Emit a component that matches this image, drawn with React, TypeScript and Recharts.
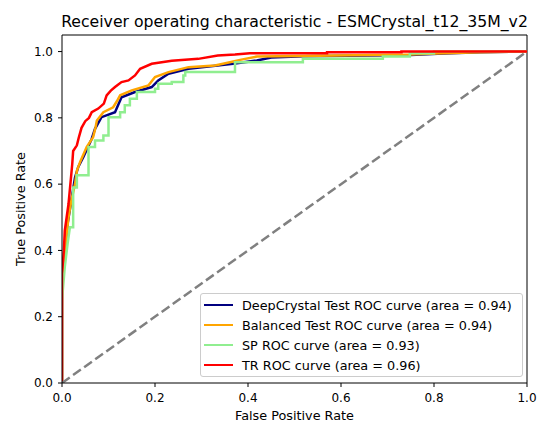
import { LineChart, Line, XAxis, YAxis, ReferenceLine } from "recharts";

// ROC points: [false positive rate, true positive rate]
const deepCrystalRoc = [
  [0, 0], [0, 0.3], [0.006, 0.4], [0.012, 0.48], [0.02, 0.55], [0.028, 0.62],
  [0.035, 0.652], [0.046, 0.682], [0.064, 0.737], [0.071, 0.767], [0.085, 0.802],
  [0.114, 0.817], [0.128, 0.862], [0.157, 0.878], [0.193, 0.893], [0.207, 0.913],
  [0.229, 0.933], [0.272, 0.948], [0.368, 0.963], [0.419, 0.973], [0.45, 0.982],
  [0.52, 0.986], [0.75, 0.99], [0.82, 0.994], [0.9, 0.998], [1, 1],
];

const balancedRoc = [
  [0, 0], [0, 0.3], [0.005, 0.38], [0.01, 0.45], [0.014, 0.5], [0.02, 0.55],
  [0.028, 0.6], [0.032, 0.64], [0.039, 0.667], [0.053, 0.712], [0.067, 0.742],
  [0.072, 0.77], [0.075, 0.792], [0.089, 0.817], [0.11, 0.832], [0.118, 0.85],
  [0.125, 0.868], [0.15, 0.883], [0.186, 0.898], [0.2, 0.923], [0.229, 0.938],
  [0.272, 0.953], [0.329, 0.958], [0.361, 0.968], [0.383, 0.975], [0.419, 0.985],
  [0.512, 0.987], [0.748, 0.991], [0.82, 0.995], [0.9, 0.998], [1, 1],
];

const spRoc = [
  [0, 0], [0, 0.25], [0.006, 0.35], [0.012, 0.42], [0.017, 0.47], [0.024, 0.47],
  [0.024, 0.59], [0.032, 0.59], [0.032, 0.627], [0.057, 0.627], [0.057, 0.712],
  [0.071, 0.712], [0.071, 0.732], [0.089, 0.732], [0.089, 0.747], [0.1, 0.747],
  [0.1, 0.802], [0.125, 0.802], [0.125, 0.817], [0.135, 0.817], [0.135, 0.838],
  [0.146, 0.838], [0.146, 0.858], [0.161, 0.858], [0.161, 0.878], [0.2, 0.878],
  [0.2, 0.888], [0.207, 0.888], [0.207, 0.903], [0.236, 0.903], [0.236, 0.908],
  [0.261, 0.908], [0.261, 0.928], [0.265, 0.928], [0.265, 0.938], [0.372, 0.938],
  [0.372, 0.968], [0.518, 0.968], [0.518, 0.978], [0.69, 0.978], [0.69, 0.985],
  [0.748, 0.985], [0.748, 0.995], [0.8, 0.995], [0.8, 1], [1, 1],
];

const trRoc = [
  [0, 0], [0, 0.33], [0.004, 0.4], [0.006, 0.46], [0.01, 0.5], [0.014, 0.54],
  [0.018, 0.6], [0.022, 0.66], [0.024, 0.7], [0.032, 0.717], [0.036, 0.74],
  [0.042, 0.77], [0.05, 0.79], [0.058, 0.8], [0.064, 0.817], [0.078, 0.828],
  [0.09, 0.843], [0.096, 0.868], [0.105, 0.882], [0.114, 0.893], [0.128, 0.908],
  [0.143, 0.913], [0.157, 0.928], [0.168, 0.948], [0.193, 0.963], [0.236, 0.972],
  [0.293, 0.978], [0.335, 0.988], [0.372, 0.991], [0.404, 0.995], [0.57, 0.995],
  [0.57, 0.998], [0.73, 0.998], [0.73, 1], [1, 1],
];

const chanceLine = [[0, 0], [1, 1]];

const seriesNames = [
  "DeepCrystal Test ROC curve (area = 0.94)",
  "Balanced Test ROC curve (area = 0.94)",
  "SP ROC curve (area = 0.93)",
  "TR ROC curve (area = 0.96)",
];
const seriesColors = ["#000080", "#FFA500", "#90EE90", "#FF0000"];
const seriesData = [deepCrystalRoc, balancedRoc, spRoc, trRoc];

const axisTicks = [0, 0.2, 0.4, 0.6, 0.8, 1.0];

const FONT = "'DejaVu Sans', sans-serif";

const toPoints = (arr: number[][]) => arr.map(([x, y]) => ({ x, y }));

export default function App() {
  const tickStyle = { fill: "#000", fontSize: 12, fontFamily: FONT };
  return (
    <div
      style={{
        position: "absolute",
        left: 0,
        top: 0,
        width: 541,
        height: 422,
        background: "#fff",
      }}
    >
      <LineChart
        width={541}
        height={422}
        margin={{ top: 35, right: 14, bottom: 0, left: 0 }}
      >
        <XAxis
          dataKey="x"
          type="number"
          domain={[0, 1]}
          ticks={axisTicks}
          tickFormatter={(v: number) => v.toFixed(1)}
          height={39}
          tickSize={4}
          tickMargin={6}
          tick={tickStyle}
          stroke="#000"
          allowDataOverflow
        />
        <YAxis
          dataKey="y"
          type="number"
          domain={[0, 1.05]}
          ticks={axisTicks}
          tickFormatter={(v: number) => v.toFixed(1)}
          width={62}
          tickSize={4}
          tickMargin={5}
          tick={tickStyle}
          stroke="#000"
          allowDataOverflow
        />
        <ReferenceLine y={1.05} stroke="#000" />
        <ReferenceLine x={1} stroke="#000" />
        {seriesData.map((d, i) => (
          <Line
            key={seriesNames[i]}
            data={toPoints(d)}
            dataKey="y"
            type="linear"
            stroke={seriesColors[i]}
            strokeWidth={2.5}
            dot={false}
            activeDot={false}
            isAnimationActive={false}
          />
        ))}
        <Line
          data={toPoints(chanceLine)}
          dataKey="y"
          type="linear"
          stroke="#808080"
          strokeWidth={2.5}
          strokeDasharray="9.5 4.1"
          dot={false}
          activeDot={false}
          isAnimationActive={false}
        />
      </LineChart>

      <svg
        width={541}
        height={422}
        style={{ position: "absolute", left: 0, top: 0, pointerEvents: "none" }}
      >
        <text
          x={294.5}
          y={26.5}
          textAnchor="middle"
          fontFamily={FONT}
          fontSize={15.7}
          fill="#000"
        >
          Receiver operating characteristic - ESMCrystal_t12_35M_v2
        </text>
        <text
          x={294.5}
          y={420}
          textAnchor="middle"
          fontFamily={FONT}
          fontSize={12.8}
          fill="#000"
        >
          False Positive Rate
        </text>
        <text
          transform="translate(25,209) rotate(-90)"
          textAnchor="middle"
          fontFamily={FONT}
          fontSize={12.8}
          fill="#000"
        >
          True Positive Rate
        </text>
      </svg>

      <div
        style={{
          position: "absolute",
          left: 200,
          top: 293,
          width: 321,
          height: 81,
          border: "1px solid #cccccc",
          borderRadius: 3,
          background: "rgba(255,255,255,0.8)",
          paddingTop: 1,
          fontFamily: FONT,
          fontSize: 12.8,
          color: "#000",
        }}
      >
        {seriesNames.map((name, i) => (
          <div
            key={name}
            style={{ display: "flex", alignItems: "center", height: 20 }}
          >
            <div
              style={{
                marginLeft: 3,
                width: 29,
                height: 2.5,
                background: seriesColors[i],
              }}
            />
            <span style={{ marginLeft: 9, whiteSpace: "nowrap" }}>{name}</span>
          </div>
        ))}
      </div>
    </div>
  );
}
